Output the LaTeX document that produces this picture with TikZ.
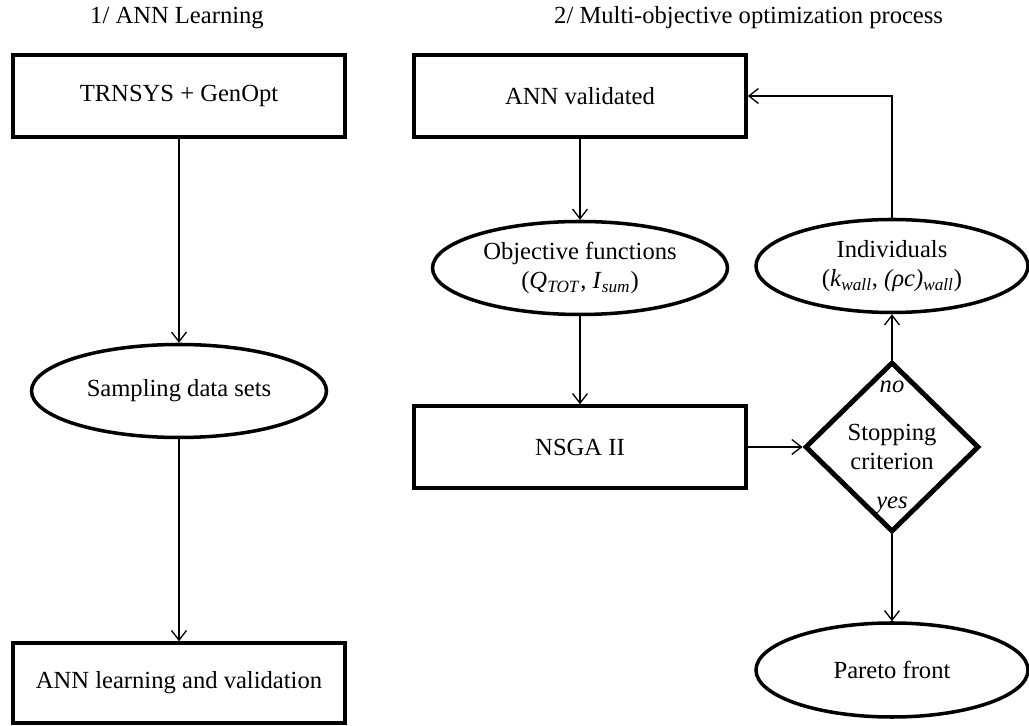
\documentclass[tikz,border=0pt]{standalone}
\usepackage{fontspec}
\setmainfont{Liberation Serif}
\usetikzlibrary{shapes.geometric,arrows.meta}

\begin{document}
\begin{tikzpicture}[
  font=\fontsize{14}{16.5}\selectfont,
  procbox/.style={draw, rectangle, line width=2pt, minimum width=6.64cm, minimum height=1.64cm, align=center},
  procell/.style={draw, ellipse, line width=2pt, minimum width=5.9cm, minimum height=1.86cm, inner sep=0pt, align=center},
  arr/.style={-{Straight Barb[length=5.5pt,width=8.5pt]}, line width=0.75pt}]
\useasboundingbox (0,0) rectangle (20.58,14.52);

\node (title1) at (3.54,14.16) {1/ ANN Learning};
\node[right] (title2) at (10.96,14.16) {2/ Multi-objective optimization process};

\node[procbox] (trnsys) at (3.58,12.60) {TRNSYS + GenOpt};
\node[procell] (sampling) at (3.58,6.70) {Sampling data sets};
\node[procbox, minimum height=1.6cm] (annlearn) at (3.58,0.86) {ANN learning and validation};

\node[procbox] (annval) at (11.60,12.60) {ANN validated};
\node[procell] (objfun) at (11.60,9.16) {Objective functions\\(\textit{Q}\textsubscript{\textit{TOT}}, \textit{I}\textsubscript{\textit{sum}})};
\node[procbox] (nsga) at (11.60,5.58) {NSGA II};

\node[draw, diamond, line width=2.8pt, minimum width=3.48cm, minimum height=3.4cm, inner sep=0pt, align=center] (stop) at (17.84,5.58) {Stopping\\criterion};
\node[procell, minimum width=5.44cm] (indiv) at (17.84,9.20) {Individuals\\(\textit{k}\textsubscript{\textit{wall}}, \textit{(ρc)}\textsubscript{\textit{wall}})};
\node[procell, minimum width=5.44cm, minimum height=1.88cm] (pareto) at (17.84,1.12) {Pareto front};

\node[font=\fontsize{14}{16.5}\selectfont\itshape] (nolbl) at (17.84,6.78) {no};
\node[font=\fontsize{14}{16.5}\selectfont\itshape] (yeslbl) at (17.84,4.42) {yes};

\draw[arr] (trnsys) -- (sampling);
\draw[arr] (sampling) -- (annlearn);
\draw[arr] (annval) -- (objfun);
\draw[arr] (objfun) -- (nsga);
\draw[arr] (nsga) -- (stop.west);
\draw[arr] (stop.north) -- (indiv);
\draw[arr] (stop.south) -- (pareto);
\draw[arr] (indiv.north) |- (annval.east);
\end{tikzpicture}
\end{document}
